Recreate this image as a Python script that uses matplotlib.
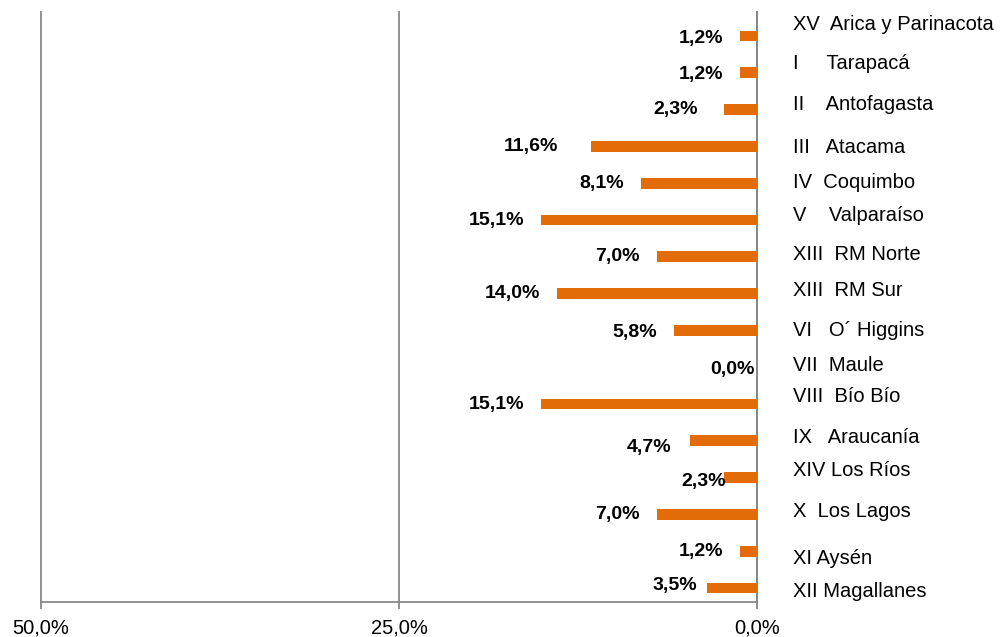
import matplotlib
matplotlib.use("Agg")
import matplotlib.pyplot as plt
from matplotlib.transforms import offset_copy

plt.rcParams['font.family'] = ['Liberation Sans', 'DejaVu Sans']

regions = ["XV  Arica y Parinacota", "I     Tarapacá", "II    Antofagasta", "III   Atacama",
           "IV  Coquimbo", "V    Valparaíso", "XIII  RM Norte", "XIII  RM Sur",
           "VI   O´ Higgins", "VII  Maule", "VIII  Bío Bío", "IX   Araucanía",
           "XIV Los Ríos", "X  Los Lagos", "XI Aysén", "XII Magallanes"]
values = [1.2, 1.2, 2.3, 11.6, 8.1, 15.1, 7.0, 14.0, 5.8, 0.0, 15.1, 4.7, 2.3, 7.0, 1.2, 3.5]
xticks = [50, 25, 0]
xtick_labels = ["50,0%", "25,0%", "0,0%"]

# layout/style: nudges (points) for region labels and value labels
label_dy = [8, 7, 4, -1, 0.5, 3, 2, 2, 0, 1, 5.5, 2.5, 5, 2, -5.5, -2.5]
value_dy = [-1.5, -1.5, 0, 0, 0, 0, 0, 0, -1.5, -2, 0, -5, -2.5, 0, 0, 2]
value_dx = [0, 0, -7, -11.5, 0, 0, 0, 0, 0, 10, 0, -1.5, 13, 0, 0, 5]

fig = plt.figure(figsize=(10.08, 6.37), dpi=100)
ax = fig.add_axes([41/1008, 35/637, (757-41)/1008, (602-12)/637])

n = len(regions)
ypos = list(range(n))
color = "#E36C09"
ax.barh(ypos, values, height=0.29, color=color, zorder=3)
ax.set_xlim(50, 0)
ax.set_ylim(n - 0.62, -0.652)

ax.set_xticks(xticks)
ax.set_xticklabels(xtick_labels, fontsize=14.5)
ax.tick_params(axis='x', length=5, width=1.3, color="#888888", pad=7)
ax.set_yticks([])
ax.xaxis.grid(True, color="#888888", linewidth=1.3, zorder=0)
for gl in ax.get_xgridlines():
    gl.set_clip_on(False)

for s in ['top', 'left']:
    ax.spines[s].set_visible(False)
ax.spines['bottom'].set_color("#888888")
ax.spines['bottom'].set_linewidth(1.3)
ax.spines['right'].set_color("#888888")
ax.spines['right'].set_linewidth(1.3)

for i, (lab, v) in enumerate(zip(regions, values)):
    tr = offset_copy(ax.transData, fig=fig, x=26, y=label_dy[i], units='points')
    ax.text(0, i, lab, transform=tr, ha='left', va='center', fontsize=14.5, clip_on=False)
    trv = offset_copy(ax.transData, fig=fig, x=-12 + value_dx[i], y=value_dy[i], units='points')
    ax.text(v, i, f"{v:.1f}%".replace('.', ','), transform=trv, ha='right', va='center',
            fontsize=14, fontweight='bold', clip_on=False, zorder=4)

fig.savefig("out.png", dpi=100)
